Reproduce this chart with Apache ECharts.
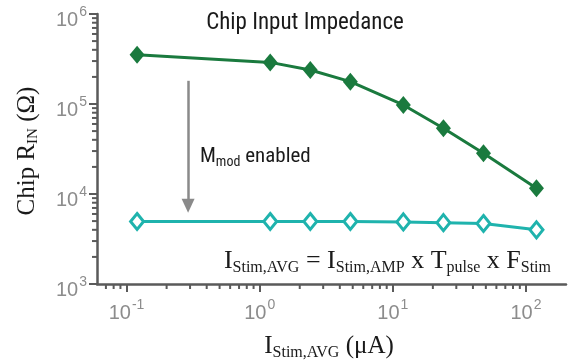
<!DOCTYPE html>
<html>
<head>
<meta charset="utf-8">
<script src="https://cdn.jsdelivr.net/npm/echarts@6/dist/echarts.min.js"></script>
<style>html,body{margin:0;padding:0;background:#fff}#c{width:574px;height:362px}</style>
</head>
<body>
<div id="c"></div>
<script>
// ---- data ----
var currentUA = [0.12, 1.2, 2.4, 4.8, 12, 24, 48, 120];
var rinDefault = [353000, 290000, 239000, 177000, 97500, 53700, 28300, 11600];
var rinMmod = [4950, 4950, 4950, 4950, 4900, 4800, 4700, 4000];
var xRange = [0.06, 200];
var yRange = [1000, 1000000];
var arrowX = 0.29;
var arrowY = [181000, 7400];

var NARROW = "'Liberation Sans Narrow', 'Arial Narrow', 'Roboto Condensed', Roboto, sans-serif";
var SANS = "'Liberation Sans', Arial, sans-serif";
var SERIF = "'Liberation Serif', 'Times New Roman', serif";
var AXIS = '#5a5a5a';
var LABEL = '#8c8c8c';

function expLabel(v) {
  var e = Math.round(Math.log(v) / Math.LN10);
  return '{b|10}{s|' + e + '}';
}
var labelRich = {
  b: {fontFamily: SANS, fontSize: 20, color: LABEL, verticalAlign: 'top', padding: [5, 0, 0, 0]},
  s: {fontFamily: SANS, fontSize: 14, color: LABEL, verticalAlign: 'top', padding: [0, 0, 0, 1]}
};

var chart = echarts.init(document.getElementById('c'), null, {renderer: 'canvas'});
var option = {
  animation: false,
  grid: {left: 97, right: 8, top: 14, bottom: 78, containLabel: false},
  xAxis: {
    type: 'log', logBase: 10, min: xRange[0], max: xRange[1],
    axisLine: {lineStyle: {color: AXIS, width: 2.5}},
    axisTick: {length: 8, lineStyle: {color: AXIS, width: 2}},
    minorTick: {show: false}, splitLine: {show: false},
    axisLabel: {formatter: expLabel, rich: labelRich, margin: 14, showMinLabel: false, showMaxLabel: false}
  },
  yAxis: {
    type: 'log', logBase: 10, min: yRange[0], max: yRange[1],
    axisLine: {lineStyle: {color: AXIS, width: 2.5}},
    axisTick: {length: 8, lineStyle: {color: AXIS, width: 2}},
    minorTick: {show: false}, splitLine: {show: false},
    axisLabel: {formatter: expLabel, rich: labelRich, margin: 10, padding: [8, 0, 0, 0]}
  },
  series: [
    {
      type: 'line', name: 'default',
      data: currentUA.map(function (x, i) { return [x, rinDefault[i]]; }),
      symbol: 'diamond', symbolSize: [15, 18],
      lineStyle: {color: '#1a7a3e', width: 3},
      itemStyle: {color: '#1a7a3e'},
      z: 3,
      markLine: {
        silent: true, animation: false,
        symbol: ['none', 'triangle'], symbolSize: [13, 14],
        label: {show: false},
        lineStyle: {color: '#8a8a8a', width: 2.5, type: 'solid'},
        data: [[{coord: [arrowX, arrowY[0]]}, {coord: [arrowX, arrowY[1]]}]]
      }
    },
    {
      type: 'line', name: 'mmod',
      data: currentUA.map(function (x, i) { return [x, rinMmod[i]]; }),
      symbol: 'diamond', symbolSize: [13, 16],
      lineStyle: {color: '#1fb3ad', width: 3},
      itemStyle: {color: '#ffffff', borderColor: '#1fb3ad', borderWidth: 3},
      z: 3
    }
  ],
  graphic: []
};
chart.setOption(option);

// minor log ticks, placed through the axis scales
var g = [];
var ax0 = chart.convertToPixel({yAxisIndex: 0}, yRange[0]);
var ay0 = chart.convertToPixel({xAxisIndex: 0}, xRange[0]);
for (var d = -2; d <= 2; d++) {
  for (var m = 2; m <= 9; m++) {
    var v = m * Math.pow(10, d);
    if (v > xRange[0] * 1.001 && v < xRange[1] * 0.999) {
      var px = chart.convertToPixel({xAxisIndex: 0}, v);
      g.push({type: 'line', silent: true, shape: {x1: px, y1: ax0, x2: px, y2: ax0 + 5}, style: {stroke: AXIS, lineWidth: 2}});
    }
  }
}
for (var d2 = 3; d2 <= 5; d2++) {
  for (var m2 = 2; m2 <= 9; m2++) {
    var vy = m2 * Math.pow(10, d2);
    var py = chart.convertToPixel({yAxisIndex: 0}, vy);
    g.push({type: 'line', silent: true, shape: {x1: ay0, y1: py, x2: ay0 - 5, y2: py}, style: {stroke: AXIS, lineWidth: 2}});
  }
}
// texts
g.push({type: 'text', x: 305, y: 23, silent: true,
  style: {text: 'Chip Input Impedance', font: '23px ' + NARROW, fill: '#1a1a1a', textAlign: 'center', textVerticalAlign: 'middle'}});
g.push({type: 'text', x: 200, y: 158, silent: true,
  style: {text: '{b|M}{s|mod}{b| enabled}', textAlign: 'left', textVerticalAlign: 'middle',
    rich: {b: {fontFamily: NARROW, fontSize: 21, fill: '#1a1a1a', verticalAlign: 'top'},
           s: {fontFamily: NARROW, fontSize: 14, fill: '#1a1a1a', verticalAlign: 'top', padding: [9, 0, 0, 0]}}}});
var serifRich = function (b, s) {
  return {b: {fontFamily: SERIF, fontSize: b, fill: '#1a1a1a', verticalAlign: 'top'},
          s: {fontFamily: SERIF, fontSize: s, fill: '#1a1a1a', verticalAlign: 'top', padding: [Math.round(b * 0.42), 0, 0, 0]}};
};
g.push({type: 'text', x: 551, y: 262, silent: true,
  style: {text: '{b|I}{s|Stim,AVG}{b| = I}{s|Stim,AMP}{b| x T}{s|pulse}{b| x F}{s|Stim}',
    textAlign: 'right', textVerticalAlign: 'middle', rich: serifRich(26, 16)}});
g.push({type: 'text', x: 329, y: 347, silent: true,
  style: {text: '{b|I}{s|Stim,AVG}{b| (\u03bcA)}', textAlign: 'center', textVerticalAlign: 'middle', rich: serifRich(25, 16)}});
g.push({type: 'text', x: 28, y: 151, rotation: Math.PI / 2, silent: true,
  style: {text: '{b|Chip R}{s|IN}{b| (\u03a9)}', textAlign: 'center', textVerticalAlign: 'middle', rich: serifRich(25, 15)}});
chart.setOption({graphic: g});
</script>
</body>
</html>
